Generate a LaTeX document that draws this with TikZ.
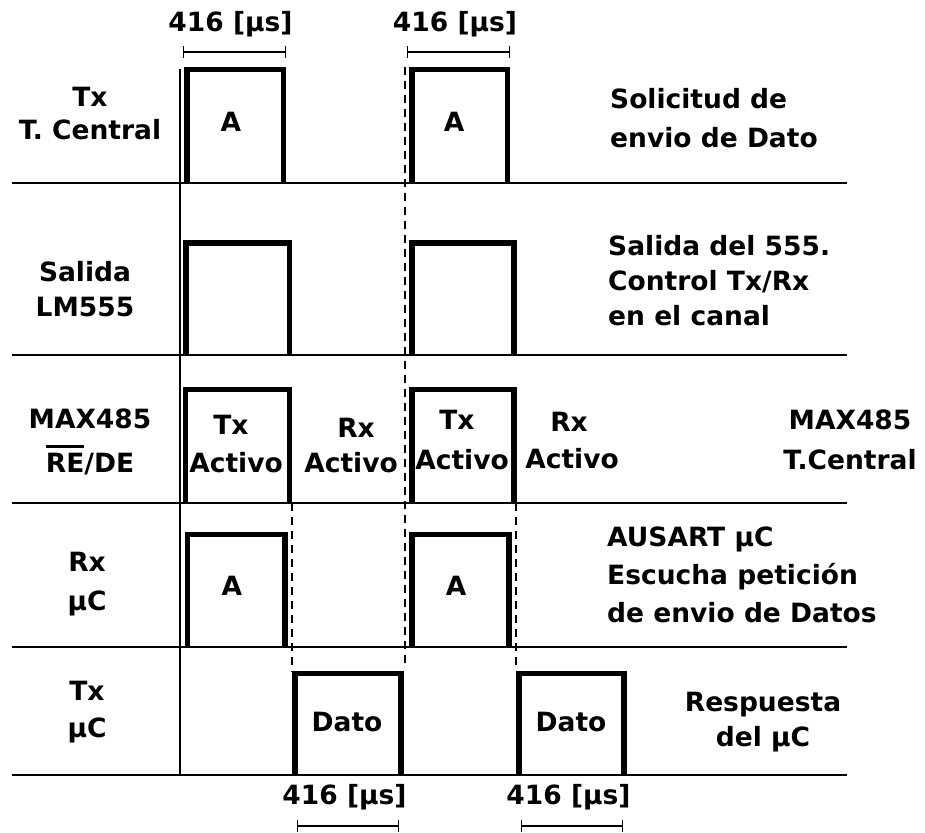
\documentclass[tikz,border=0pt]{standalone}
\usepackage{fontspec}
\setmainfont{DejaVu Sans}
\usetikzlibrary{arrows.meta}
\newsavebox\ovlbox
\newcommand\ovltext[1]{\sbox\ovlbox{#1}\rlap{\raisebox{24.5pt}{\rule{\wd\ovlbox}{2.7pt}}}\usebox\ovlbox}
\begin{document}
\begin{tikzpicture}[x=1pt,y=-1pt,
  pulse/.style={line width=5.5pt, line join=miter},
  baseln/.style={line width=1.6pt},
  guide/.style={line width=1.5pt, dash pattern=on 8pt off 6pt},
  dimln/.style={line width=1.4pt, {Bar[width=12pt,line width=1.4pt]}-{Bar[width=12pt,line width=1.4pt]}},
  lbl/.style={inner sep=0pt, align=center, font=\bfseries\fontsize{26.5}{#1}\selectfont},
  lbl/.default=34,
  lbll/.style={inner sep=0pt, align=left, anchor=west, font=\bfseries\fontsize{26.5}{#1}\selectfont},
  lbll/.default=36,
]
\useasboundingbox (0,0) rectangle (925,832);

% baselines
\foreach \yy in {183,355,503,647,775} \draw[baseln] (12,\yy) -- (847,\yy);
% left vertical axis
\draw[baseln] (180,69) -- (180,775);

% dashed guides
\draw[guide] (405,67) -- (405,665);
\draw[guide] (292,503) -- (292,672);
\draw[guide] (516,503) -- (516,668);

% row 1 pulses
\draw[pulse] (187,183) |- (283.5,69.5) -- (283.5,183);
\draw[pulse] (411.8,183) |- (507.5,69.5) -- (507.5,183);
% row 2 pulses
\draw[pulse] (186,355) |- (289.7,242.8) -- (289.7,355);
\draw[pulse] (411.8,355) |- (513.8,242.8) -- (513.8,355);
% row 3 pulses
\draw[pulse] (185.5,503) |- (289.7,389.5) -- (289.7,503);
\draw[pulse] (411.8,503) |- (513.8,389.5) -- (513.8,503);
% row 4 pulses
\draw[pulse] (187.5,647) |- (285.2,534.5) -- (285.2,647);
\draw[pulse] (411.8,647) |- (509.2,534.5) -- (509.2,647);
% row 5 pulses
\draw[pulse] (294.8,775) |- (400.8,673.3) -- (400.8,775);
\draw[pulse] (519.2,775) |- (624.2,673.3) -- (624.2,775);

% dimension markers
\coordinate (t1a) at (183,52); \coordinate (t1b) at (286,52);
\coordinate (t2a) at (407,52); \coordinate (t2b) at (510,52);
\coordinate (b1a) at (297,826); \coordinate (b1b) at (399,826);
\coordinate (b2a) at (521,826); \coordinate (b2b) at (623,826);
\draw[dimln] (t1a) -- (t1b);
\draw[dimln] (t2a) -- (t2b);
\draw[dimln] (b1a) -- (b1b);
\draw[dimln] (b2a) -- (b2b);
\node[lbl] (d1) at (230.5,24) {416 [µs]};
\node[lbl] (d2) at (455,24) {416 [µs]};
\node[lbl] (d3) at (344.5,797) {416 [µs]};
\node[lbl] (d4) at (568.5,797) {416 [µs]};

% left labels
\node[lbl=33] (lTx) at (90,113.5) {Tx\\T. Central};
\node[lbl=35] (lSal) at (85,289.5) {Salida\\LM555};
\node[lbl=44] (lMax) at (90,442) {MAX485\\\ovltext{RE}/DE};
\node[lbl=39] (lRx) at (87,584.5) {Rx\\µC};
\node[lbl=37] (lTxu) at (87,712.5) {Tx\\µC};

% right labels
\node[lbll=38.5] (rSol) at (610,118) {Solicitud de\\envio de Dato};
\node[lbll=35] (rSal) at (608,281) {Salida del 555.\\Control Tx/Rx\\en el canal};
\node[lbl=40] (rMax) at (850,440) {MAX485\\T.Central};
\node[lbll=38] (rAus) at (607,575) {AUSART µC\\Escucha petición\\de envio de Datos};
\node[lbl=35] (rRes) at (763,722) {Respuesta\\del µC};

% pulse labels
\node[lbl] (a1) at (231,122) {A};
\node[lbl] (a2) at (454,122) {A};
\node[lbl] (a3) at (232,586) {A};
\node[lbl] (a4) at (456,586) {A};
\node[lbl] (dt1) at (347,722) {Dato};
\node[lbl] (dt2) at (571,722) {Dato};
\node[lbl=38] (tx1) at (236,444) {\hspace*{-10pt}Tx\\Activo};
\node[lbl=35] (rx1) at (351,445.5) {\hspace*{10pt}Rx\\Activo};
\node[lbl=40] (tx2) at (462,440) {\hspace*{-10pt}Tx\\Activo};
\node[lbl=37] (rx2) at (572,441) {\hspace*{-6pt}Rx\\Activo};
\end{tikzpicture}
\end{document}
